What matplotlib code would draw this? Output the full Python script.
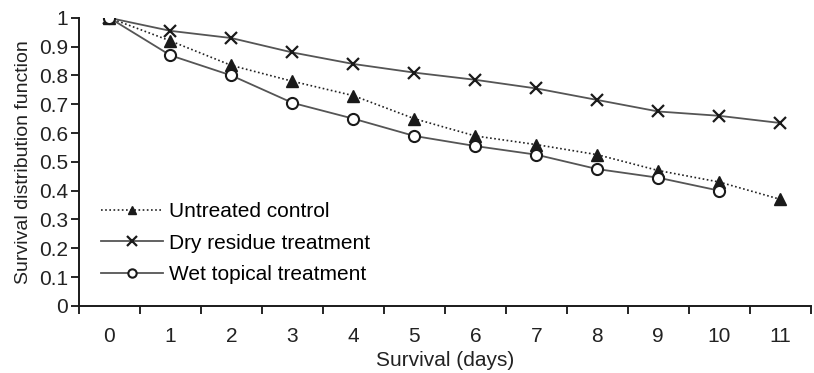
import matplotlib.pyplot as plt
import numpy as np

days = list(range(12))
untreated = [1.0, 0.92, 0.835, 0.78, 0.73, 0.65, 0.59, 0.56, 0.525, 0.47, 0.43, 0.37]
dry = [1.0, 0.955, 0.93, 0.88, 0.84, 0.81, 0.785, 0.755, 0.715, 0.675, 0.66, 0.635]
wet = [1.0, 0.87, 0.80, 0.705, 0.65, 0.59, 0.555, 0.525, 0.475, 0.445, 0.40]

plt.rcParams['font.family'] = ['Liberation Sans', 'DejaVu Sans']

fig = plt.figure(figsize=(8.14, 3.73), dpi=100)
ax = fig.add_axes([0.097, 0.18, 0.899, 0.772])

line_col = "#555555"
ax.plot(days, untreated, linestyle=(0, (1, 1.5)), color="#222222", lw=1.2,
        marker="^", markersize=8, markerfacecolor="#1a1a1a", markeredgecolor="#1a1a1a",
        label="Untreated control")
ax.plot(days, dry, linestyle="-", color=line_col, lw=1.3,
        marker="x", markersize=9, markeredgewidth=1.6, markeredgecolor="#1a1a1a",
        label="Dry residue treatment")
ax.plot(days[:len(wet)], wet, linestyle="-", color=line_col, lw=1.3,
        marker="o", markersize=8, markerfacecolor="white", markeredgewidth=1.5,
        markeredgecolor="#1a1a1a", label="Wet topical treatment")

ax.set_xlim(-0.5, 11.5)
ax.set_ylim(0, 1)
ax.set_xticks(np.arange(-0.5, 12, 1))
ax.set_xticklabels([])
ax.set_xticks(days, minor=True)
ax.set_xticklabels([str(d) for d in days], minor=True)
ax.tick_params(axis="x", which="major", length=6, width=1.2, direction="out")
ax.tick_params(axis="x", which="minor", length=0, pad=15, labelsize=15, labelcolor="#222222")
ax.set_yticks(np.arange(0, 1.01, 0.1))
ax.set_yticklabels(["0", "0.1", "0.2", "0.3", "0.4", "0.5", "0.6", "0.7", "0.8", "0.9", "1"])
ax.tick_params(axis="y", length=6, width=1.2, labelsize=15, labelcolor="#222222", pad=2)

for s in ["top", "right"]:
    ax.spines[s].set_visible(False)
for s in ["left", "bottom"]:
    ax.spines[s].set_linewidth(1.4)
    ax.spines[s].set_color("#1a1a1a")

ax.set_xlabel("Survival (days)", fontsize=15, color="#222222", labelpad=4)
ax.set_ylabel("Survival distribution function", fontsize=14, color="#222222", labelpad=5)

ax.legend(loc="lower left", bbox_to_anchor=(0.03, 0.075), frameon=False, fontsize=15,
          handlelength=3.0, handletextpad=0.25, labelspacing=0.6, markerscale=0.75,
          borderpad=0, borderaxespad=0)

plt.savefig("out.png", dpi=100)
